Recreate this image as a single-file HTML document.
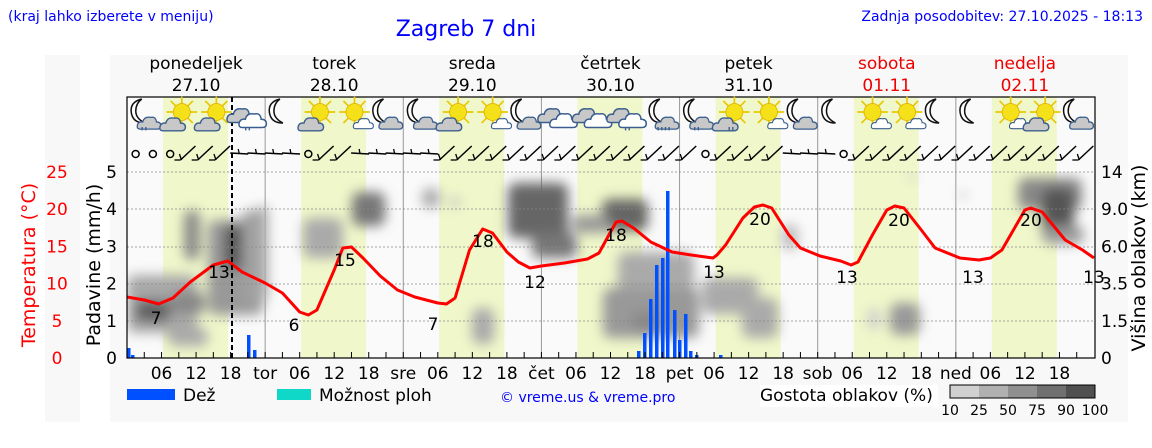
<!DOCTYPE html>
<html><head><meta charset="utf-8">
<style>
body{margin:0;background:#fff;width:1152px;height:443px;overflow:hidden;font-family:"Liberation Sans","DejaVu Sans",sans-serif;}
svg text{font-family:"DejaVu Sans","Liberation Sans",sans-serif;}
</style></head><body>
<svg id="s" width="1152" height="443" xmlns="http://www.w3.org/2000/svg">
<defs>
<filter id="bl" x="-20%" y="-20%" width="140%" height="140%"><feGaussianBlur stdDeviation="6"/></filter>
<clipPath id="pc"><rect x="127" y="172" width="968" height="186"/></clipPath>
<symbol id="sun" viewBox="0 0 40 40" overflow="visible"><g stroke="#e8c800" stroke-width="2"><line x1="20" y1="2" x2="20" y2="38"/><line x1="2" y1="20" x2="38" y2="20"/><line x1="7" y1="7" x2="33" y2="33"/><line x1="33" y1="7" x2="7" y2="33"/></g><circle cx="20" cy="20" r="10" fill="#f5e11a" stroke="#e0b000"/></symbol>
<symbol id="cl" viewBox="0 0 40 40" overflow="visible"><path d="M6 34 Q0 34 2 27 Q4 22 10 23 Q12 14 22 16 Q30 14 31 23 Q38 23 38 29 Q38 34 32 34Z" fill="#c8c8c8" stroke="#3a5f8f" stroke-width="2"/></symbol>
<symbol id="clw" viewBox="0 0 40 40" overflow="visible"><path d="M6 34 Q0 34 2 27 Q4 22 10 23 Q12 14 22 16 Q30 14 31 23 Q38 23 38 29 Q38 34 32 34Z" fill="#fff" stroke="#3a5f8f" stroke-width="2"/></symbol>
<symbol id="moon" viewBox="0 0 40 40" overflow="visible"><path d="M22 4 Q6 8 8 22 Q10 36 26 36 Q14 30 14 20 Q14 10 22 4Z" fill="#fff" stroke="#111" stroke-width="2"/></symbol>
</defs>
<rect x="45" y="55" width="35" height="367" fill="#f8f8f8"/>
<rect x="110" y="55" width="1018" height="367" fill="#f8f8f8"/>
<g id="g"></g>
</svg>
<script>
const s=document.getElementById('g');let h='';
const X0=127,D=138.14,H=D/24;
const hx=t=>X0+t*H;
h+=`<rect x="127" y="97" width="968" height="261" fill="#fafafa"/>`;
for(let d=0;d<7;d++)h+=`<rect x="${X0+d*D+36}" y="97" width="65" height="261" fill="#f0f7ca"/>`;
for(let d=1;d<7;d++)h+=`<line x1="${X0+d*D}" y1="97" x2="${X0+d*D}" y2="358" stroke="#999" stroke-width="1"/>`;
const C=[
[127,275,70,58,'#a8a8a8'],[135,300,35,22,'#606060'],[170,292,35,22,'#888'],[168,328,40,18,'#aaa'],
[184,210,16,50,'#888'],[208,220,55,95,'#999'],[224,225,34,45,'#555'],[242,210,18,95,'#a0a0a0'],[258,205,10,95,'#aaa'],
[303,218,40,40,'#aaa'],[352,192,33,34,'#777'],[422,188,18,20,'#aaa'],[450,197,10,10,'#bbb'],
[508,183,60,55,'#666'],[532,233,45,25,'#777'],[602,199,46,32,'#666'],[572,215,38,18,'#999'],
[618,252,76,56,'#aaa'],[603,288,96,50,'#999'],[702,278,56,36,'#aaa'],[742,298,36,40,'#aaa'],[632,312,28,18,'#888'],
[472,308,22,36,'#aaa'],[782,224,16,26,'#bbb'],[868,308,12,22,'#ccc'],[890,303,30,32,'#999'],[907,174,10,6,'#ccc'],[957,192,12,6,'#ccc'],
[1018,178,64,32,'#888'],[1042,188,32,50,'#555'],[1042,226,42,18,'#999']];
h+='<g clip-path="url(#pc)" filter="url(#bl)">';
for(const c of C)h+=`<rect x="${c[0]}" y="${c[1]}" width="${c[2]}" height="${c[3]}" rx="8" fill="${c[4]}"/>`;
h+='</g>';
[172,209,247,284,321].forEach(y=>h+=`<line x1="127" y1="${y}" x2="1095" y2="${y}" stroke="#888" stroke-width="0.8" stroke-dasharray="2,2"/>`);
const B=[[127,348],[131,355],[247,335],[253,350],[637,351],[643,333],[649,299],[655,265],[661,258],[666,191],[673,310],[678,340],[684,314],[689,351],[695,355],[719,355]];
for(const b of B)h+=`<rect x="${b[0]}" y="${b[1]}" width="3.5" height="${358-b[1]}" fill="#0050ff"/>`;
const T=[[0,297],[3,300],[5.5,304],[8,298],[11,282],[15,265],[17.5,261],[20,272],[24,283],[27,293],[30,312],[31.5,315],[33,310],[36,270],[38.5,248],[40,247],[42,258],[44,272],[47,290],[50,298],[54,303],[55.5,304],[57,298],[60,248],[62,230],[63.5,229],[65,233],[67.5,252],[70,264],[73,268],[77,265],[81,260],[83,256],[85,244],[88,226],[90,221],[92,224],[95,236],[98,244],[102,251],[106,255],[110,257],[113.5,259],[116,256],[118,245],[121,224],[123.5,208],[125,206],[127,212],[130,232],[133,247],[137,254],[143,258],[147,261],[148.5,262],[150,256],[152.5,233],[154.5,212],[156,207],[157.5,208],[160,222],[163,240],[166,250],[169,256],[172,259],[175,258],[178,253],[180,240],[182,222],[183.5,209],[185,207],[187,210],[190,226],[193,242],[196,250],[200,256],[202,260],[205,260],[207,256],[209,244],[211,227],[212.5,210],[213.5,208],[216,213],[218,222],[221,235],[225,247],[228,253],[232,256]];
const T2=T.map(p=>[p[0]*0+p[0],p[1]]);
// map later points (tuned by pixel positions)
const P=[[0,297],[3,300],[5.5,304],[8,298],[11,282],[15,265],[17.5,261],[20,272],[24,283],[27,293],[30,312],[31.5,315],[33,310],[36,270],[37.5,248],[39,247],[41,258],[44,276],[47,290],[50,297],[54,303],[55.5,304],[57,298],[59.5,250],[61.8,229],[63.5,233],[66,252],[68,262],[70,268],[72,266],[76,263],[80,259],[82,253],[84,232],[85,222],[86,221],[88,228],[91,242],[94.7,252],[98,255],[101.8,258],[102.5,255],[104,245],[107,218],[109,207],[110.5,205],[112,208],[115,235],[117,248],[120.4,256],[124,261],[125.8,265],[127,262],[129.5,235],[132,210],[133.4,206],[135,208],[138,230],[140.4,248],[144.7,258],[148,260],[150,258],[152,250],[154.5,225],[156,210],[157,208],[159,212],[163,240],[166,250],[168,258]];
h+=`<polyline fill="none" stroke="#f00" stroke-width="3" stroke-linejoin="round" points="${P.map(p=>hx(p[0]).toFixed(1)+','+p[1]).join(' ')}"/>`;
const TL=[[156,324,'7'],[219,278,'13'],[294,331,'6'],[345,266,'15'],[433,330,'7'],[483,247,'18'],[535,288,'12'],[616,241,'18'],[714,278,'13'],[760,225,'20'],[847,283,'13'],[899,226,'20'],[973,283,'13'],[1031,226,'20'],[1094,283,'13']];
for(const t of TL)h+=`<text x="${t[0]}" y="${t[1]}" font-size="17" text-anchor="middle" fill="#000">${t[2]}</text>`;
h+=`<rect x="127" y="97" width="968" height="261" fill="none" stroke="#000" stroke-width="1.2"/>`;
h+=`<line x1="232" y1="97" x2="232" y2="358" stroke="#000" stroke-width="2" stroke-dasharray="5,3"/>`;
const dn=['','tor','sre','čet','pet','sob','ned'];
for(let i=0;i<56;i++){const x=X0+i*3*H;h+=`<line x1="${x}" y1="352" x2="${x}" y2="358" stroke="#000"/>`;}
for(let d=0;d<7;d++){const x=X0+d*D;
 if(d>0)h+=`<text x="${x}" y="379" font-size="17" text-anchor="middle">${dn[d]}</text>`;
 ['06','12','18'].forEach((l,k)=>h+=`<text x="${x+(k+1)*6*H}" y="379" font-size="17" text-anchor="middle">${l}</text>`);}
const dh=[['ponedeljek','27.10'],['torek','28.10'],['sreda','29.10'],['četrtek','30.10'],['petek','31.10'],['sobota','01.11'],['nedelja','02.11']];
dh.forEach((v,d)=>{const x=X0+(d+.5)*D,c=d>=5?'#e00':'#000';h+=`<text x="${x}" y="69" font-size="17" text-anchor="middle" fill="${c}">${v[0]}</text><text x="${x}" y="91" font-size="17" text-anchor="middle" fill="${c}">${v[1]}</text>`;});
const I=['mcr','sc','sc','cr','m','sc','sw','mc','mc','s','sw','mc','c','c','cr','mcR','mcr','scr','sw','mc','m','sw','sw','m','m','sw','sc','mc'];
I.forEach((t,i)=>{const x=hx(3+6*i),y=115;let g='';
 if(t[0]=='m'){g+=`<use href="#moon" x="${x-19}" y="${y-19}" width="30" height="30"/>`;if(t.includes('c'))g+=`<use href="#cl" x="${x-8}" y="${y-8}" width="26" height="26"/>`;}
 else if(t[0]=='s'){g+=`<use href="#sun" x="${x-14}" y="${y-20}" width="34" height="34"/>`;if(t=='sw')g+=`<use href="#clw" x="${x+1}" y="${y-5}" width="22" height="22"/>`;else g+=`<use href="#cl" x="${x-20}" y="${y-8}" width="28" height="28"/>`;}
 else {g+=`<use href="#cl" x="${x-22}" y="${y-18}" width="30" height="30"/><use href="#clw" x="${x-10}" y="${y-13}" width="30" height="30"/>`;}
 if(t.endsWith('r'))g+=`<text x="${x-4}" y="${y+21}" font-size="12" font-style="italic" fill="#3a5f8f" font-weight="bold">''</text>`;
 if(t.endsWith('R'))g+=`<text x="${x-6}" y="${y+21}" font-size="12" font-style="italic" fill="#3a5f8f" font-weight="bold">''''</text>`;
 h+=g;});
for(let i=0;i<56;i++){const x=hx(1.5+3*i),y=152;
 if(i<3||i==33||i==41||i==10){h+=`<circle cx="${x}" cy="${y+2}" r="3.5" fill="none" stroke="#000" stroke-width="1.5"/>`;continue;}
 if((i>=6&&i<=9)||(i>=13&&i<=17)||(i>=38&&i<=40)){h+=`<line x1="${x-9}" y1="${y+1}" x2="${x+9}" y2="${y+2}" stroke="#000" stroke-width="1.5"/><line x1="${x}" y1="${y+2}" x2="${x-1}" y2="${y-3}" stroke="#000" stroke-width="1.3"/>`;continue;}
 h+=`<line x1="${x-7}" y1="${y+8}" x2="${x+8}" y2="${y-6}" stroke="#000" stroke-width="1.5"/><line x1="${x-6}" y1="${y+8}" x2="${x-8}" y2="${y+2}" stroke="#000" stroke-width="1.3"/><line x1="${x-7}" y1="${y+8}" x2="${x-13}" y2="${y+8}" stroke="#000" stroke-width="1.3"/>`;}
['0','1','2','3','4','5'].forEach((l,i)=>h+=`<text x="117" y="${358-i*37.2+6}" font-size="17" text-anchor="end">${l}</text>`);
['0','5','10','15','20','25'].forEach((l,i)=>h+=`<text x="57" y="${358-i*37.2+6}" font-size="17" text-anchor="middle" fill="#f00">${l}</text>`);
['0','1.5','3.5','6.0','9.0','14'].forEach((l,i)=>h+=`<text x="1101" y="${358-i*37.2+6}" font-size="17">${l}</text>`);
h+=`<text transform="translate(35,265) rotate(-90)" font-size="19" text-anchor="middle" fill="#f00">Temperatura (°C)</text>`;
h+=`<text transform="translate(100,265) rotate(-90)" font-size="19" text-anchor="middle">Padavine (mm/h)</text>`;
h+=`<text transform="translate(1145,258) rotate(-90)" font-size="19" text-anchor="middle">Višina oblakov (km)</text>`;
h+=`<text x="8" y="21" font-size="14" fill="#00f">(kraj lahko izberete v meniju)</text>`;
h+=`<text x="466" y="36" font-size="22" text-anchor="middle" fill="#00f">Zagreb 7 dni</text>`;
h+=`<text x="1143" y="21" font-size="14" text-anchor="end" fill="#00f">Zadnja posodobitev: 27.10.2025 - 18:13</text>`;
h+=`<rect x="127" y="389" width="48" height="11" fill="#0050ff"/><text x="183" y="401" font-size="17">Dež</text>`;
h+=`<rect x="277" y="389" width="34" height="11" fill="#10d8c8"/><text x="319" y="401" font-size="17">Možnost ploh</text>`;
h+=`<text x="500" y="402" font-size="14" fill="#00f">© vreme.us &amp; vreme.pro</text>`;
h+=`<rect x="760" y="385" width="178" height="22" fill="#fff"/><text x="760" y="401" font-size="17">Gostota oblakov (%)</text>`;
['#d0d0d0','#b0b0b0','#909090','#707070','#505050'].forEach((c,i)=>h+=`<rect x="${950+i*29}" y="385" width="29" height="13" fill="${c}"/>`);
h+=`<rect x="950" y="385" width="145" height="13" fill="none" stroke="#000"/>`;
['10','25','50','75','90','100'].forEach((l,i)=>h+=`<text x="${950+i*29}" y="415" font-size="14" text-anchor="middle">${l}</text>`);
s.innerHTML=h;
</script>
</body></html>
